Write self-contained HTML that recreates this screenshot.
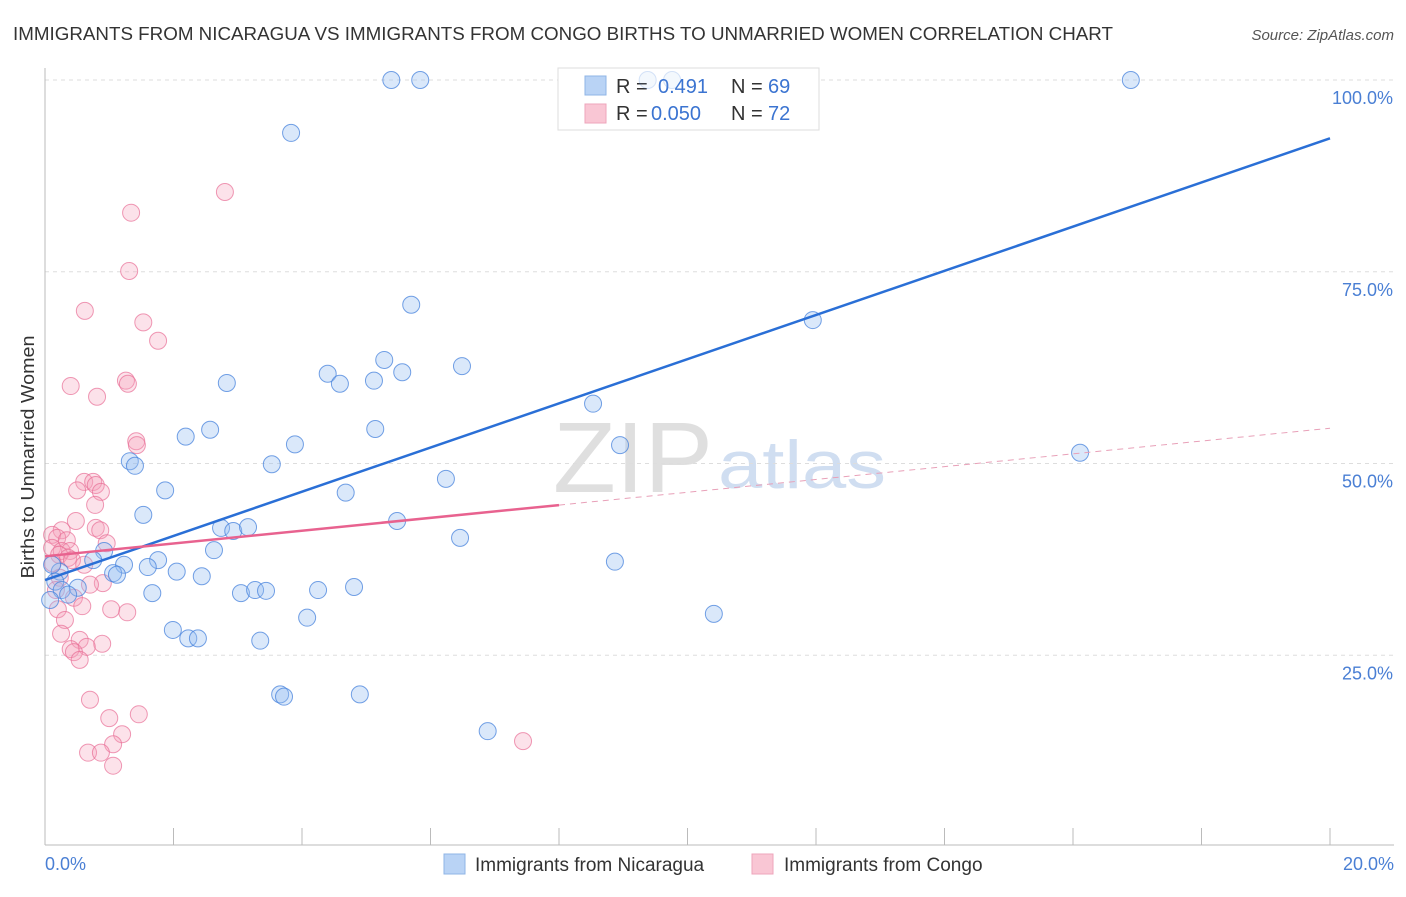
<!DOCTYPE html>
<html><head><meta charset="utf-8">
<style>
body{margin:0;background:#fff;font-family:"Liberation Sans",sans-serif;}
svg text{font-family:"Liberation Sans",sans-serif;}
</style></head>
<body>
<svg id="chart" width="1406" height="892" xmlns="http://www.w3.org/2000/svg">
<text x="13" y="40" font-size="18.5" fill="#333" textLength="1100" lengthAdjust="spacingAndGlyphs">IMMIGRANTS FROM NICARAGUA VS IMMIGRANTS FROM CONGO BIRTHS TO UNMARRIED WOMEN CORRELATION CHART</text>
<text x="1394" y="40" font-size="15" fill="#555" text-anchor="end" font-style="italic">Source: ZipAtlas.com</text>
<g>
<text x="553" y="492" font-size="100" fill="#d8d8d8" font-family="Liberation Serif" textLength="160" lengthAdjust="spacingAndGlyphs" opacity="0.8">ZIP</text>
<text x="718" y="488" font-size="68" fill="#c5d6ee" textLength="168" lengthAdjust="spacingAndGlyphs" opacity="0.8">atlas</text>
</g>
<g id="grid"></g>
<line x1="45" y1="68" x2="45" y2="845" stroke="#bbb"/>
<line x1="45" y1="845" x2="1394" y2="845" stroke="#bbb"/>
<g id="xticks"></g>
<g>
<rect x="558" y="68" width="261" height="62" fill="#fff" stroke="#ddd"/>
<rect x="585" y="76" width="21" height="19" fill="#b9d3f5" stroke="#8fb4e6"/>
<rect x="585" y="104" width="21" height="19" fill="#f9c6d4" stroke="#eea5bb"/>
<text x="616" y="93" font-size="20" fill="#333">R = </text><text x="658" y="93" font-size="20" fill="#3b74d1">0.491</text>
<text x="731" y="93" font-size="20" fill="#333">N = </text><text x="768" y="93" font-size="20" fill="#3b74d1">69</text>
<text x="616" y="120" font-size="20" fill="#333">R = </text><text x="651" y="120" font-size="20" fill="#3b74d1">0.050</text>
<text x="731" y="120" font-size="20" fill="#333">N = </text><text x="768" y="120" font-size="20" fill="#3b74d1">72</text>
</g>
<g id="points"></g>
<g id="trends"></g>
<text transform="translate(34,457) rotate(-90)" font-size="18.5" fill="#333" text-anchor="middle" textLength="243" lengthAdjust="spacingAndGlyphs">Births to Unmarried Women</text>
<text x="45" y="870" font-size="18" fill="#4a7fd4">0.0%</text>
<text x="1394" y="870" font-size="18" fill="#4a7fd4" text-anchor="end">20.0%</text>
<g>
<rect x="444" y="854" width="21" height="20" fill="#b9d3f5" stroke="#8fb4e6"/>
<text x="475" y="871" font-size="19" fill="#333">Immigrants from Nicaragua</text>
<rect x="752" y="854" width="21" height="20" fill="#f9c6d4" stroke="#eea5bb"/>
<text x="784" y="871" font-size="19" fill="#333">Immigrants from Congo</text>
</g>
</svg>
<script>
const yTicks=[25,50,75,100];
const yTickLabels=["25.0%","50.0%","75.0%","100.0%"];
const xTicks=[0,2,4,6,8,10,12,14,16,18,20];
const blueX=[5.39,5.84,9.38,9.76,16.90,3.83,5.70,11.95,5.28,6.49,4.40,5.56,5.12,4.59,2.83,8.53,2.57,5.14,2.19,3.89,8.95,16.11,1.32,1.40,3.53,1.87,4.68,6.24,1.53,2.74,2.93,3.16,5.48,6.46,2.63,0.92,0.75,1.76,1.23,1.60,1.06,1.12,2.05,2.44,8.87,0.23,0.16,0.26,0.51,1.67,3.05,3.27,3.44,4.25,4.81,4.08,10.41,1.99,2.23,2.38,3.35,3.66,3.72,4.90,6.89,0.08,0.36,0.11];
const blueY=[100,100,100,100,100,93.1,70.7,68.7,63.5,62.7,61.7,61.9,60.8,60.4,60.5,57.8,54.4,54.5,53.5,52.5,52.4,51.4,50.3,49.7,49.9,46.5,46.2,48.0,43.3,41.6,41.2,41.7,42.5,40.3,38.7,38.6,37.4,37.4,36.8,36.5,35.7,35.5,35.9,35.3,37.2,35.9,34.6,33.5,33.8,33.1,33.1,33.5,33.4,33.5,33.9,29.9,30.4,28.3,27.2,27.2,26.9,19.9,19.6,19.9,15.1,32.2,32.9,36.8];
const pinkX=[2.80,1.34,1.31,0.62,1.53,1.76,1.26,1.29,0.40,0.81,1.42,1.43,0.61,0.75,0.79,0.50,0.87,0.78,0.48,0.26,0.79,0.86,0.11,0.19,0.34,0.96,0.11,0.26,0.39,0.22,0.36,0.42,0.12,0.61,0.23,0.90,0.70,0.17,0.45,0.58,0.20,1.03,1.28,0.31,0.25,0.54,0.89,0.65,0.40,0.45,0.54,0.70,1.00,1.46,1.20,1.06,0.67,0.87,1.06,7.44];
const pinkY=[85.4,82.7,75.1,69.9,68.4,66.0,60.8,60.4,60.1,58.7,52.9,52.4,47.6,47.6,47.2,46.5,46.3,44.6,42.5,41.3,41.6,41.3,40.7,40.3,40.0,39.6,39.0,38.6,38.6,38.1,37.7,37.4,37.0,36.8,35.1,34.4,34.2,33.5,32.5,31.4,31.0,31.0,30.6,29.6,27.8,27.0,26.5,26.1,25.8,25.4,24.4,19.2,16.8,17.3,14.7,13.4,12.3,12.3,10.6,13.8];
const blueTrend=[34.8,92.4];
const pinkTrend=[37.9,54.6];
const pinkSolidEnd=8;

const NS="http://www.w3.org/2000/svg";
const sx=v=>45+v/20*1285;
const sy=v=>847-v/100*767;
function mk(tag,attrs,parent){const e=document.createElementNS(NS,tag);for(const k in attrs)e.setAttribute(k,attrs[k]);parent.appendChild(e);return e;}
const grid=document.getElementById('grid');
yTicks.forEach((t,i)=>{
  const l=mk('line',{x1:45,x2:1394,y1:sy(t),y2:sy(t),stroke:'#ddd','stroke-dasharray':'4,4'},grid);
  
  
  const tx=mk('text',{x:1393,y:sy(t)+24,'font-size':18,fill:'#4a7fd4','text-anchor':'end'},grid);
  tx.textContent=yTickLabels[i];
  
  
});
const xt=document.getElementById('xticks');
xTicks.forEach(t=>{
  const l=mk('line',{x1:sx(t),x2:sx(t),y1:828,y2:845,stroke:'#bbb'},xt);
  
  
});
const pts=document.getElementById('points');
pinkX.forEach((x,i)=>{
  const c=mk('circle',{cx:sx(x),cy:sy(pinkY[i]),r:8.5,fill:'rgba(244,160,186,0.3)',stroke:'rgba(232,110,150,0.7)','stroke-width':1},pts);
  
  
});
blueX.forEach((x,i)=>{
  const inLegend=sx(x)>558&&sx(x)<819&&sy(blueY[i])<130;
  const c=mk('circle',{cx:sx(x),cy:sy(blueY[i]),r:8.5,fill:'rgba(150,190,240,0.35)',stroke:'rgba(70,130,220,0.75)','stroke-width':1,opacity:inLegend?0.3:1},pts);
  
  
});
const tr=document.getElementById('trends');
const bl=mk('line',{x1:sx(0),y1:sy(blueTrend[0]),x2:sx(20),y2:sy(blueTrend[1]),stroke:'#2a6fd6','stroke-width':2.5},tr);


const pm=pinkTrend[0]+(pinkTrend[1]-pinkTrend[0])*pinkSolidEnd/20;
const pl=mk('line',{x1:sx(0),y1:sy(pinkTrend[0]),x2:sx(pinkSolidEnd),y2:sy(pm),stroke:'#e8628f','stroke-width':2.5},tr);


const pd=mk('line',{x1:sx(pinkSolidEnd),y1:sy(pm),x2:sx(20),y2:sy(pinkTrend[1]),stroke:'#e8a0b8','stroke-width':1,'stroke-dasharray':'6,5'},tr);


</script>
</body></html>
